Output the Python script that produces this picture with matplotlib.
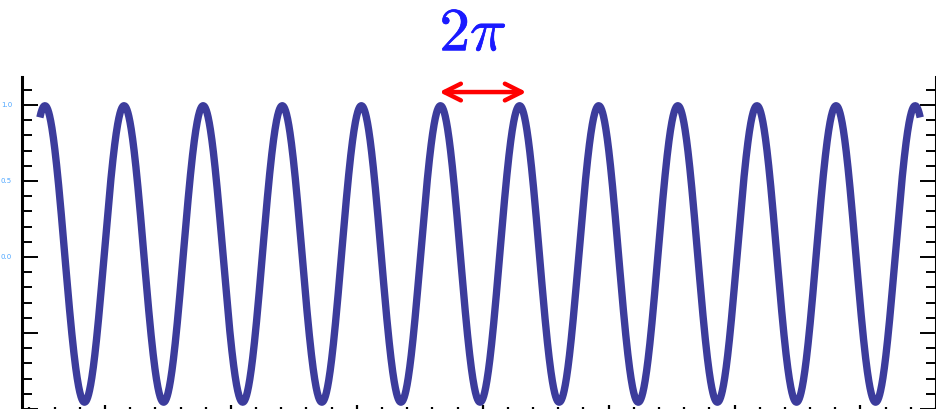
import numpy as np
import matplotlib
matplotlib.use('Agg')
import matplotlib.pyplot as plt
import matplotlib.patheffects as pe
from matplotlib.ticker import MultipleLocator

plt.rcParams['mathtext.fontset'] = 'cm'

# Параметры волны
first_peak = -4.77      # положение первого максимума
period = 2 * np.pi
n_periods = 11
amplitude = 0.975
offset = 0.02
edge = 0.4              # сколько кривой видно до первого / после последнего максимума

# подписи оси y (видны только у верхних делений)
ytick_values = [-1.0, -0.5, 0.0, 0.5, 1.0]
ytick_labels = ['', '', '0.0', '0.5', '1.0']

# какие максимумы соединяет стрелка
arrow_peaks = [5, 6]
label_text = r'$2\pi$'

x = np.linspace(first_peak - edge, first_peak + n_periods * period + edge, 3000)
y = amplitude * np.cos(x - first_peak) + offset

fig = plt.figure(figsize=(9.37, 4.09), dpi=100)
ax = fig.add_axes([22.5 / 937, -2 / 409, (936 - 22.5) / 937, (411 - 77) / 409])

ax.plot(x, y, color='#3c3c9c', lw=5.3, solid_capstyle='butt')

ax.set_xlim(-6.55, 66.0)
ax.set_ylim(-1.013, 1.184)

ax.spines['top'].set_visible(False)
ax.spines['bottom'].set_visible(False)
ax.spines['left'].set_linewidth(2.2)
ax.spines['right'].set_linewidth(2.2)

ax.set_yticks(ytick_values)
ax.set_yticklabels(ytick_labels)
ax.yaxis.set_minor_locator(MultipleLocator(0.1))
ax.xaxis.set_major_locator(MultipleLocator(10))
ax.xaxis.set_minor_locator(MultipleLocator(2))

ax.tick_params(axis='y', which='both', direction='in', left=True, right=True,
               labelleft=True, labelright=False, width=1.4)
ax.tick_params(axis='y', which='major', length=11.5, pad=7.5, labelsize=5,
               labelcolor='#4da6ff')
ax.tick_params(axis='y', which='minor', length=7)
ax.tick_params(axis='x', which='both', direction='in', bottom=True, top=False,
               labelbottom=False, width=1.6)
ax.tick_params(axis='x', which='major', length=4)
ax.tick_params(axis='x', which='minor', length=3)

# стрелка между соседними максимумами
p1 = first_peak + arrow_peaks[0] * period
p2 = first_peak + arrow_peaks[1] * period
ax.annotate('', xy=(p1 - 0.1, 1.085), xytext=(p2 + 0.55, 1.085),
            arrowprops=dict(arrowstyle='<->', color='red', lw=3.2,
                            mutation_scale=30, shrinkA=0, shrinkB=0),
            annotation_clip=False)
ax.text((p1 + p2) / 2 - 0.55, 1.467, label_text, color='#1a1aff', fontsize=44,
        ha='center', va='center', clip_on=False,
        path_effects=[pe.withStroke(linewidth=0.5, foreground='#1a1aff')])

fig.savefig('out.png', dpi=100)
